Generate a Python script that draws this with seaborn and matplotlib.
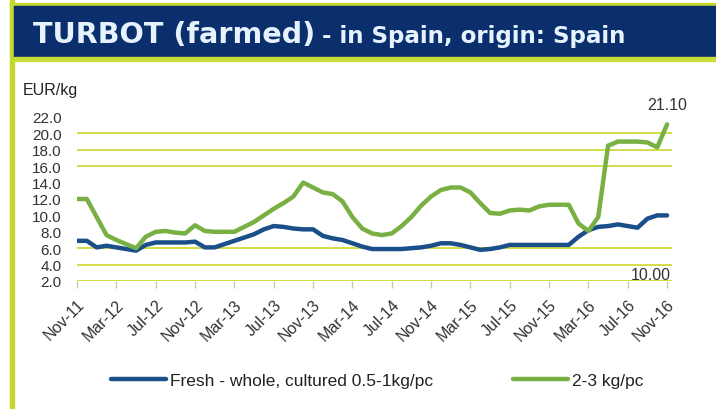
import pandas as pd
import numpy as np
import matplotlib
matplotlib.use('Agg')
import matplotlib.pyplot as plt
import seaborn as sns
from matplotlib.lines import Line2D

# 데이터 (월별, Nov-11 ~ Nov-16)
month_idx = list(range(61))
tick_labels = ['Nov-11', 'Mar-12', 'Jul-12', 'Nov-12', 'Mar-13', 'Jul-13', 'Nov-13', 'Mar-14',
               'Jul-14', 'Nov-14', 'Mar-15', 'Jul-15', 'Nov-15', 'Mar-16', 'Jul-16', 'Nov-16']
fresh_small = [6.9, 6.9, 6.1, 6.3, 6.1, 5.9, 5.7, 6.4, 6.7, 6.7,
               6.7, 6.7, 6.8, 6.1, 6.1, 6.5, 6.9, 7.3, 7.7, 8.3,
               8.7, 8.6, 8.4, 8.3, 8.3, 7.5, 7.2, 7.0, 6.6, 6.2,
               5.9, 5.9, 5.9, 5.9, 6.0, 6.1, 6.3, 6.6, 6.6, 6.4,
               6.1, 5.8, 5.9, 6.1, 6.4, 6.4, 6.4, 6.4, 6.4, 6.4,
               6.4, 7.4, 8.2, 8.6, 8.7, 8.9, 8.7, 8.5, 9.6, 10.0,
               10.0]
big_2_3 = [12.0, 12.0, 9.8, 7.6, 7.0, 6.5, 6.0, 7.4, 8.0, 8.1,
           7.9, 7.8, 8.8, 8.1, 8.0, 8.0, 8.0, 8.6, 9.2, 10.0,
           10.8, 11.5, 12.3, 14.0, 13.4, 12.8, 12.6, 11.7, 9.8, 8.4,
           7.8, 7.6, 7.8, 8.7, 9.8, 11.2, 12.3, 13.1, 13.4, 13.4,
           12.8, 11.5, 10.3, 10.2, 10.6, 10.7, 10.6, 11.1, 11.3, 11.3,
           11.3, 9.0, 8.1, 9.8, 18.5, 19.0, 19.0, 19.0, 18.9, 18.3,
           21.1]
series_names = ['Fresh - whole, cultured 0.5-1kg/pc', '2-3 kg/pc']
series_colors = ['#1b4f8a', '#78b043']
grid_levels = [2, 4, 6, 16, 18, 20]

df = pd.DataFrame({
    'month': month_idx * 2,
    'price': fresh_small + big_2_3,
    'series': [series_names[0]] * 61 + [series_names[1]] * 61,
})

sns.set_style('white')
plt.rcParams['font.family'] = ['Liberation Sans', 'DejaVu Sans']

fig = plt.figure(figsize=(7.16, 4.10), dpi=100)
W, H = 716, 410

# 테두리 / 제목 배너
fig.patches.append(plt.Rectangle((10 / W, 0), 4 / W, 1, transform=fig.transFigure,
                                 color='#c5d82e', zorder=0))
fig.patches.append(plt.Rectangle((10 / W, 1 - 7 / H), 1, 3 / H, transform=fig.transFigure,
                                 color='#c5d82e', zorder=0))
fig.patches.append(plt.Rectangle((14 / W, 1 - 58 / H), 1, 51 / H, transform=fig.transFigure,
                                 color='#0a2f6c', zorder=1))
fig.patches.append(plt.Rectangle((14 / W, 1 - 62 / H), 1, 4 / H, transform=fig.transFigure,
                                 color='#c9de3a', zorder=1))
fig.text(33 / W, 1 - 43 / H, 'TURBOT (farmed)', family='DejaVu Sans', weight='bold',
         fontsize=20.6, color='#e6f3ff', va='baseline', ha='left')
fig.text(322 / W, 1 - 43 / H, '- in Spain, origin: Spain', family='DejaVu Sans', weight='bold',
         fontsize=16.6, color='#e6f3ff', va='baseline', ha='left')
fig.text(23 / W, 1 - 90 / H, 'EUR/kg', fontsize=11.5, color='#222222', va='center', ha='left')

ax = fig.add_axes([77 / W, 1 - 282 / H, (672 - 77) / W, (282 - 118) / H])
for lv in grid_levels:
    ax.axhline(lv, color='#d3de48', lw=1.4, zorder=1)

sns.lineplot(data=df, x='month', y='price', hue='series', hue_order=series_names,
             palette=series_colors, linewidth=3.2, legend=False, ax=ax, zorder=3)

ax.set_xlim(0, 60.5)
ax.set_ylim(2, 22)
ax.set_yticks(np.arange(2, 23, 2))
ax.set_yticklabels([f'{v:.1f}' for v in np.arange(2, 23, 2)])
ax.set_xticks(range(0, 61, 4))
ax.set_xticklabels(tick_labels, rotation=45, ha='right', rotation_mode='anchor')
ax.tick_params(axis='y', length=0, pad=11, labelsize=11, labelcolor='#333333')
ax.tick_params(axis='x', length=5, width=1, color='#c9cca0', pad=6, labelsize=11.5,
               labelcolor='#333333', direction='out', bottom=True)
ax.set_xlabel('')
ax.set_ylabel('')
for s in ax.spines.values():
    s.set_visible(False)

ax.annotate(f'{big_2_3[-1]:.2f}', xy=(60, big_2_3[-1]), xytext=(0, 14),
            textcoords='offset points', ha='center', va='center', fontsize=11.5,
            color='#333333', annotation_clip=False)
ax.text(60.4, 2.85, f'{fresh_small[-1]:.2f}', ha='right', va='center', fontsize=11.5,
        color='#333333')

handles = [Line2D([0], [0], color=c, lw=3.2) for c in series_colors]
fig.legend(handles, series_names, loc='center', bbox_to_anchor=(377 / W, 1 - 381 / H),
           ncol=2, frameon=False, fontsize=12.5, handlelength=3.2, handletextpad=0.2,
           columnspacing=4.6, labelcolor='#222222')

fig.savefig('out.png', dpi=100, facecolor='white')
